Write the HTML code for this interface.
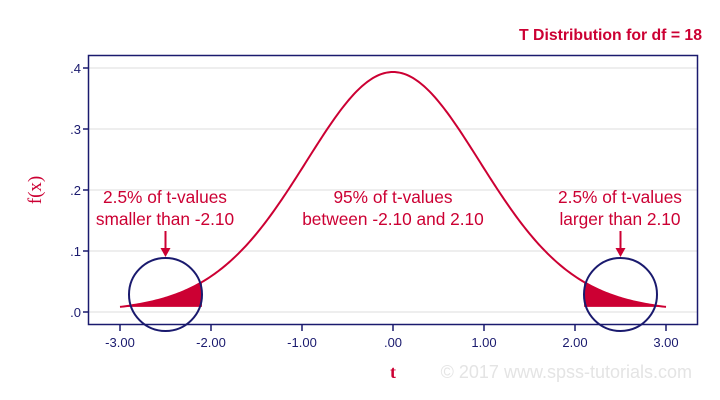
<!DOCTYPE html>
<html><head><meta charset="utf-8"><style>
html,body{margin:0;padding:0;background:#fff}
svg{display:block;font-family:"Liberation Sans",sans-serif}
</style></head><body>
<svg id="c" width="720" height="400" viewBox="0 0 720 400">
<text x="702" y="40" text-anchor="end" font-size="15.8" font-weight="bold" fill="#cc0033">T Distribution for df = 18</text>
<g id="grid"></g>
<rect x="88.5" y="55.5" width="609" height="269" fill="none" stroke="#1a1a6e" stroke-width="1.5"/>
<g id="axes"></g>
<g id="marks"></g>
<text transform="translate(41,190) rotate(-90)" text-anchor="middle" font-family="Liberation Serif,serif" font-size="19" fill="#cc0033">f(x)</text>
<text x="393" y="378" text-anchor="middle" font-family="Liberation Serif,serif" font-size="18" font-weight="bold" fill="#cc0033">t</text>
<text x="692" y="378" text-anchor="end" font-size="18" fill="#e4e4e4">© 2017 www.spss-tutorials.com</text>
<g font-size="17.3" fill="#cc0033" text-anchor="middle">
<text x="165" y="203">2.5% of t-values</text>
<text x="165" y="225">smaller than -2.10</text>
<text x="393" y="203">95% of t-values</text>
<text x="393" y="225">between -2.10 and 2.10</text>
<text x="620" y="203">2.5% of t-values</text>
<text x="620" y="225">larger than 2.10</text>
</g>
</svg>
<script>
const xTicks=[-3,-2,-1,0,1,2,3];
const xTickLabels=["-3.00","-2.00","-1.00",".00","1.00","2.00","3.00"];
const yTicks=[0,0.1,0.2,0.3,0.4];
const yTickLabels=[".0",".1",".2",".3",".4"];
const df=[18];
const tRange=[-3,3];
const critical=[-2.10,2.10];
const circleCenters=[-2.5,2.5];
const NS="http://www.w3.org/2000/svg";
const X=t=>393+t*91, Y=v=>312-v*610;
function gamma(z){const g=7,p=[0.99999999999980993,676.5203681218851,-1259.1392167224028,771.32342877765313,-176.61502916214059,12.507343278686905,-0.13857109526572012,9.9843695780195716e-6,1.5056327351493116e-7];z-=1;let x=p[0];for(let i=1;i<9;i++)x+=p[i]/(z+i);const t=z+g+0.5;return Math.sqrt(2*Math.PI)*Math.pow(t,z+0.5)*Math.exp(-t)*x;}
const n=df[0], C=gamma((n+1)/2)/(Math.sqrt(n*Math.PI)*gamma(n/2));
const pdf=t=>C*Math.pow(1+t*t/n,-(n+1)/2);
function el(tag,attrs,parent){const e=document.createElementNS(NS,tag);for(const k in attrs)e.setAttribute(k,attrs[k]);parent.appendChild(e);return e;}
const grid=document.getElementById('grid'),axes=document.getElementById('axes'),marks=document.getElementById('marks');
yTicks.forEach((v,i)=>{
  const g=el('line',{x1:89,x2:697,y1:Y(v),y2:Y(v),stroke:'#dcdcdc','stroke-width':1},grid);
  
  
  const tk=el('line',{x1:83,x2:88,y1:Y(v),y2:Y(v),stroke:'#1a1a6e','stroke-width':1.5},axes);
  
  
  const tx=el('text',{x:81,y:Y(v)+5,'text-anchor':'end','font-size':13,fill:'#1a1a6e'},axes);
  tx.textContent=yTickLabels[i];
  
  
});
xTicks.forEach((v,i)=>{
  const tk=el('line',{x1:X(v),x2:X(v),y1:325,y2:331,stroke:'#1a1a6e','stroke-width':1.5},axes);
  
  
  const tx=el('text',{x:X(v),y:347,'text-anchor':'middle','font-size':13,fill:'#1a1a6e'},axes);
  tx.textContent=xTickLabels[i];
  
  
});
const base=Y(pdf(tRange[1]));
function area(a,b){let d=`M${X(a)},${base}`;for(let k=0;k<=60;k++){const t=a+(b-a)*k/60;d+=`L${X(t)},${Y(pdf(t))}`;}return d+`L${X(b)},${base}Z`;}
const la=el('path',{d:area(tRange[0],critical[0]),fill:'#cc0033'},marks);


const ra=el('path',{d:area(critical[1],tRange[1]),fill:'#cc0033'},marks);


let d='';for(let k=0;k<=300;k++){const t=tRange[0]+(tRange[1]-tRange[0])*k/300;d+=(k?'L':'M')+X(t)+','+Y(pdf(t));}
const cv=el('path',{d:d,fill:'none',stroke:'#cc0033','stroke-width':2},marks);


circleCenters.forEach(c=>{
  const ci=el('circle',{cx:X(c),cy:294.5,r:36.5,fill:'none',stroke:'#1a1a6e','stroke-width':2},marks);
  
  
  const ar=el('line',{x1:X(c),x2:X(c),y1:231,y2:250,stroke:'#cc0033','stroke-width':2},marks);
  
  
  const ah=el('path',{d:`M${X(c)-5},${248}L${X(c)+5},${248}L${X(c)},${257}Z`,fill:'#cc0033'},marks);
  
  
});
</script>
</body></html>
